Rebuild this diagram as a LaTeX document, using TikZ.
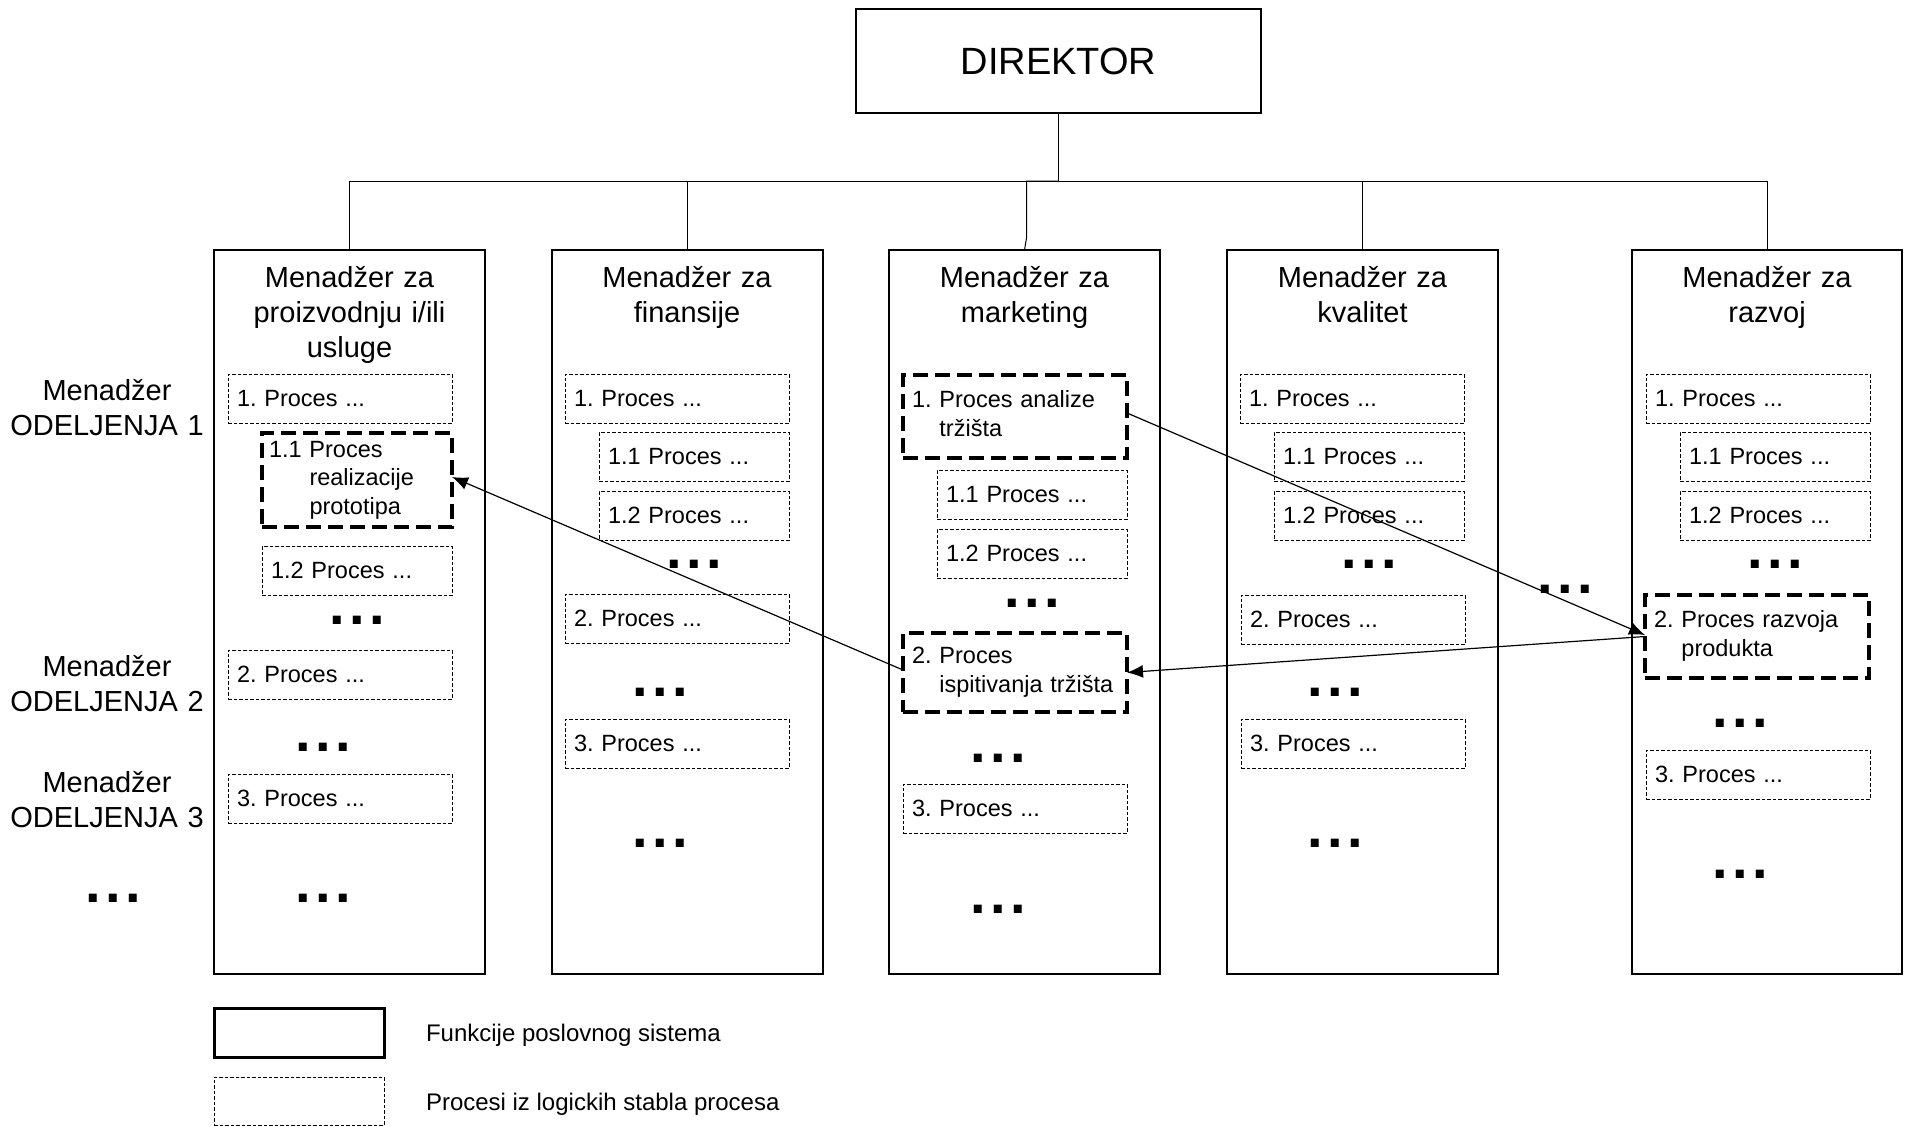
\documentclass[tikz,border=0pt]{standalone}
\usepackage{fontspec}
\setmainfont{Liberation Sans}
\usetikzlibrary{arrows.meta}
\frenchspacing

% bold ellipsis used as "and so on" marker
\newcommand{\moredots}{{\fontsize{28pt}{28pt}\selectfont\bfseries .\kern2.2pt.\kern2.2pt.}}
% process label with a hanging indent after its number
\newcommand{\numproc}[2]{\begin{tabular}{@{}l@{\ }l@{}}#1 & #2\end{tabular}}

\begin{document}
\begin{tikzpicture}[x=0.5pt,y=-0.5pt,
  every node/.style={outer sep=0pt},
  conn/.style={line width=0.5pt},
  flow/.style={line width=0.6pt,-{Latex[length=8pt,width=6.5pt]}},
  director/.style={draw,line width=0.8pt,minimum width=202.5pt,minimum height=52pt,
    anchor=north west,inner sep=0pt,font=\fontsize{19pt}{22pt}\selectfont},
  funcbox/.style={draw,line width=1.4pt,minimum width=135.5pt,minimum height=362pt,
    anchor=north west,inner sep=0pt},
  fntitle/.style={anchor=base,align=center,text width=130pt,inner sep=0pt,
    font=\fontsize{14.5pt}{17.5pt}\selectfont},
  sidelabel/.style={anchor=base,align=center,text width=100pt,inner sep=0pt,
    font=\fontsize{14.5pt}{17.5pt}\selectfont},
  proc/.style={draw,line width=0.5pt,dash pattern=on 1.75pt off 1pt,anchor=north west,
    minimum height=24.5pt,inner xsep=4.5pt,inner ysep=0pt,align=left,text width=103pt,
    font=\fontsize{11.75pt}{14.25pt}\selectfont},
  subproc/.style={proc,text width=86pt},
  keyproc/.style={proc,line width=1.6pt,dash pattern=on 7.5pt off 3.5pt},
  dotsnode/.style={anchor=base,inner sep=0pt},
  legendtext/.style={anchor=base west,inner sep=0pt,font=\fontsize{12pt}{14pt}\selectfont}
]
\useasboundingbox (0,0) rectangle (1905,1126);

% top of the hierarchy
\node[director] (dir) at (856,9) {DIREKTOR};

% business functions
\node[funcbox] (c1) at (214,250) {};
\node[funcbox] (c2) at (552,250) {};
\node[funcbox] (c3) at (889,250) {};
\node[funcbox] (c4) at (1227,250) {};
\node[funcbox,minimum width=135pt] (c5) at (1632,250) {};

\node[fntitle] (t1) at (349.5,287) {Menadžer za\\proizvodnju i/ili\\usluge};
\node[fntitle] (t2) at (687,287) {Menadžer za\\finansije};
\node[fntitle] (t3) at (1024.5,287) {Menadžer za\\marketing};
\node[fntitle] (t4) at (1362.5,287) {Menadžer za\\kvalitet};
\node[fntitle] (t5) at (1767,287) {Menadžer za\\razvoj};

% organisational tree
\coordinate (bus) at (1058.5,181);
\draw[conn] (dir.south) -- (bus);
\draw[conn] (c1.north) |- (bus);
\draw[conn] (c2.north) |- (bus);
\draw[conn] (c3.north) -- ++(2,-12) |- (bus);
\draw[conn] (c4.north) |- (bus);
\draw[conn] (c5.north) |- (bus);

% department managers
\node[sidelabel] (m1) at (107,400) {Menadžer\\ODELJENJA 1};
\node[sidelabel] (m2) at (107,676) {Menadžer\\ODELJENJA 2};
\node[sidelabel] (m3) at (107,792) {Menadžer\\ODELJENJA 3};
\node[dotsnode] (m4) at (113,902) {\moredots};

% production / services
\node[proc] (p11) at (228,374) {1. Proces ...};
\node[keyproc,text width=88pt,inner xsep=3.5pt,minimum height=47pt] (real) at (262,433)
  {\numproc{1.1}{Proces\\ & realizacije\\ & prototipa}};
\node[subproc] (p12) at (262,546) {1.2 Proces ...};
\node[dotsnode] (d11) at (357,624) {\moredots};
\node[proc] (p13) at (228,650) {2. Proces ...};
\node[dotsnode] (d12) at (323,751) {\moredots};
\node[proc] (p14) at (228,774) {3. Proces ...};
\node[dotsnode] (d13) at (323,902) {\moredots};

% finance
\node[proc] (p21) at (565,374) {1. Proces ...};
\node[subproc] (p22) at (599,432) {1.1 Proces ...};
\node[subproc] (p23) at (599,491) {1.2 Proces ...};
\node[dotsnode] (d21) at (694,568) {\moredots};
\node[proc] (p24) at (565,594) {2. Proces ...};
\node[dotsnode] (d22) at (660.5,696) {\moredots};
\node[proc] (p25) at (565,719) {3. Proces ...};
\node[dotsnode] (d23) at (660.5,847) {\moredots};

% marketing
\node[keyproc,minimum height=41.5pt] (analize) at (903,375)
  {\numproc{1.}{Proces analize\\ & tržišta}};
\node[subproc] (p32) at (937,470) {1.1 Proces ...};
\node[subproc] (p33) at (937,529) {1.2 Proces ...};
\node[dotsnode] (d31) at (1032,607) {\moredots};
\node[keyproc,minimum height=39.5pt] (ispit) at (903,633)
  {\numproc{2.}{Proces\\ & ispitivanja tržišta}};
\node[dotsnode] (d32) at (998,762) {\moredots};
\node[proc] (p35) at (903,784) {3. Proces ...};
\node[dotsnode] (d33) at (998,913) {\moredots};

% quality
\node[proc] (p41) at (1240,374) {1. Proces ...};
\node[subproc] (p42) at (1274,432) {1.1 Proces ...};
\node[subproc] (p43) at (1274,491) {1.2 Proces ...};
\node[dotsnode] (d41) at (1369,568) {\moredots};
\node[proc] (p44) at (1241,595) {2. Proces ...};
\node[dotsnode] (d42) at (1335.5,696) {\moredots};
\node[proc] (p45) at (1241,719) {3. Proces ...};
\node[dotsnode] (d43) at (1335.5,847) {\moredots};

% further functions
\node[dotsnode] (dx) at (1565,593) {\moredots};

% development
\node[proc] (p51) at (1646,374) {1. Proces ...};
\node[subproc] (p52) at (1680,432) {1.1 Proces ...};
\node[subproc] (p53) at (1680,491) {1.2 Proces ...};
\node[dotsnode] (d51) at (1775,568) {\moredots};
\node[keyproc,minimum height=41.5pt] (razvoj) at (1645,595)
  {\numproc{2.}{Proces razvoja\\ & produkta}};
\node[dotsnode] (d52) at (1740,727) {\moredots};
\node[proc] (p55) at (1646,750) {3. Proces ...};
\node[dotsnode] (d53) at (1740,878) {\moredots};

% links between processes of different functions
\draw[flow] ([yshift=1.25pt]ispit.west) -- ([yshift=1.5pt]real.east);
\draw[flow] ([yshift=1.75pt]analize.east) -- ([yshift=0.75pt]razvoj.west);
\draw[flow] (razvoj.west) -- (ispit.east);

% legend
\node[draw,line width=1.5pt,minimum width=85pt,minimum height=24.5pt,anchor=north west,inner sep=0pt]
  (lg1) at (214,1008) {};
\node[draw,line width=0.5pt,dash pattern=on 1.75pt off 1pt,minimum width=85pt,minimum height=24pt,
  anchor=north west,inner sep=0pt] (lg2) at (214,1077) {};
\node[legendtext] (lt1) at (426,1041) {Funkcije poslovnog sistema};
\node[legendtext] (lt2) at (426,1110) {Procesi iz logickih stabla procesa};
\end{tikzpicture}
\end{document}
